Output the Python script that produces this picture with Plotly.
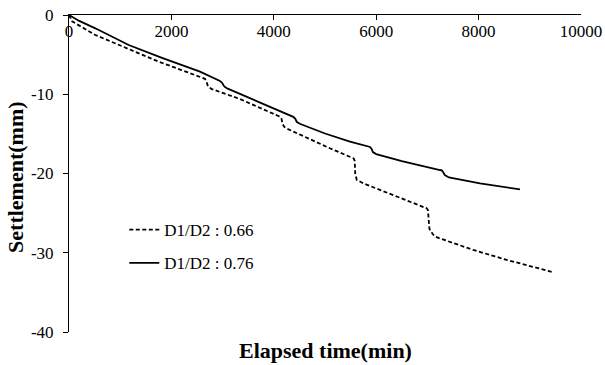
import plotly.graph_objects as go

# Series D1/D2 : 0.66 (dashed)
time_066 = [0, 60, 514, 1166, 1752, 2200, 2617, 2656, 2690, 2710, 2740, 2790, 3340, 4121, 4150,
            4170, 4200, 4260, 5097, 5560, 5580, 5590, 5620, 5748, 6400, 6986, 7010, 7025, 7040,
            7100, 7148, 7896, 8549, 9427]
settle_066 = [0, -0.8, -2.52, -4.33, -5.89, -6.95, -7.95, -8.05, -8.5, -8.9, -9.15, -9.35, -10.6,
              -12.83, -13.1, -13.7, -14.1, -14.35, -16.82, -18.1, -18.4, -20.0, -20.8, -21.24,
              -22.9, -24.39, -24.6, -26.0, -27.0, -27.6, -27.97, -29.65, -30.9, -32.4]

# Series D1/D2 : 0.76 (solid)
time_076 = [0, 200, 514, 1166, 1816, 2558, 2949, 2990, 3020, 3047, 3100, 3861, 4380, 4420, 4450,
            4520, 5000, 5488, 5880, 5910, 5935, 6000, 6500, 7246, 7280, 7310, 7340, 7420, 8027,
            8808]
settle_076 = [0, -0.75, -1.68, -3.79, -5.4, -7.15, -8.33, -8.55, -8.9, -9.1, -9.3, -11.36, -12.85,
              -13.1, -13.5, -13.75, -14.95, -15.99, -16.65, -16.9, -17.3, -17.55, -18.45, -19.56,
              -19.6, -19.85, -20.2, -20.5, -21.24, -22.0]

x_ticks = [0, 2000, 4000, 6000, 8000, 10000]
y_ticks = [0, -10, -20, -30, -40]

FONT = "Liberation Serif, Times New Roman, serif"

fig = go.Figure()
fig.add_trace(go.Scatter(x=time_066, y=settle_066, mode="lines", name="D1/D2 : 0.66",
                         legendgroup="a",
                         line=dict(color="black", width=1.8, dash="4px,2.5px")))
fig.add_trace(go.Scatter(x=time_076, y=settle_076, mode="lines", name="D1/D2 : 0.76",
                         legendgroup="b",
                         line=dict(color="black", width=1.8)))

fig.update_layout(
    width=605, height=365,
    margin=dict(l=69, r=24, t=15, b=33),
    paper_bgcolor="white", plot_bgcolor="white",
    font=dict(family=FONT, size=17, color="black"),
    showlegend=True,
    legend=dict(x=0.108, y=0.378, xanchor="left", yanchor="top",
                bgcolor="rgba(0,0,0,0)", tracegroupgap=8,
                font=dict(family=FONT, size=17, color="black")),
    xaxis=dict(range=[0, 10000], tickvals=x_ticks, ticktext=[str(v) for v in x_ticks],
               side="top", ticks="inside", ticklen=5, tickcolor="black",
               ticklabelposition="inside", ticklabeloverflow="allow", ticklabelstandoff=6,
               showline=True, linecolor="black", linewidth=1, automargin=False,
               showgrid=False, zeroline=False,
               tickfont=dict(family=FONT, size=17, color="black")),
    yaxis=dict(range=[-40, 0], tickvals=y_ticks, ticktext=[str(v) for v in y_ticks],
               ticks="outside", ticklen=5, tickcolor="black", ticklabelstandoff=6,
               showline=True, linecolor="black", linewidth=1, automargin=False,
               showgrid=False, zeroline=False,
               tickfont=dict(family=FONT, size=17, color="black")),
    annotations=[
        dict(text="<b>Elapsed time(min)</b>", xref="paper", yref="paper", x=0.5, y=-0.057,
             xanchor="center", yanchor="middle", showarrow=False,
             font=dict(family=FONT, size=22, color="black")),
        dict(text="<b>Settlement(mm)</b>", xref="paper", yref="paper", x=-0.105, y=0.49,
             xanchor="center", yanchor="middle", showarrow=False, textangle=-90,
             font=dict(family=FONT, size=22, color="black")),
    ],
)

fig.write_html("out.html", config={"displayModeBar": False},
               post_script="document.body.style.margin='0';document.body.style.overflow='hidden';")
